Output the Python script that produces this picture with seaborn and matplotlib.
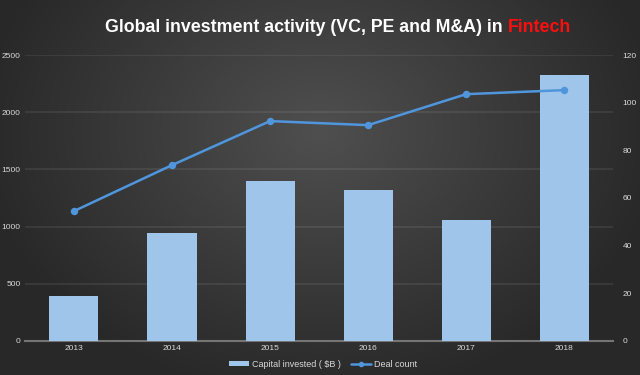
import matplotlib

matplotlib.use("Agg")
import matplotlib.pyplot as plt
import numpy as np
import pandas as pd
import seaborn as sns
from matplotlib.lines import Line2D
from matplotlib.patches import Patch

# Values
years = ["2013", "2014", "2015", "2016", "2017", "2018"]
capital_invested = [393, 944, 1398, 1320, 1058, 2325]
deal_count = [54.5, 73.8, 92.3, 90.6, 103.6, 105.3]

left_ticks = [0, 500, 1000, 1500, 2000, 2500]
right_ticks = [0, 20, 40, 60, 80, 100, 120]

BAR_COLOR = "#a0c5ea"
LINE_COLOR = "#5096dc"
TEXT_COLOR = "#d9d9d9"

df = pd.DataFrame(
    {"year": years, "capital": capital_invested, "deals": deal_count}
)

sns.set_theme(style="dark")
plt.rcParams["font.family"] = ["Liberation Sans", "DejaVu Sans"]

fig = plt.figure(figsize=(6.4, 3.75), dpi=100)

# Dark radial-ish gradient background
bg = fig.add_axes([0, 0, 1, 1], zorder=-10)
gx, gy = np.meshgrid(np.linspace(-1, 1, 320), np.linspace(-1, 1, 190))
dist = np.clip(np.sqrt(gx**2 * 0.9 + (gy + 0.3) ** 2 * 0.5), 0, 1)
shade = 0.31 - 0.15 * dist
bg.imshow(
    np.dstack([shade, shade, shade]),
    aspect="auto",
    extent=[0, 1, 0, 1],
    interpolation="bilinear",
)
bg.set_axis_off()

ax = fig.add_axes([0.039, 0.091, 0.919, 0.762])
ax.patch.set_alpha(0)

sns.barplot(data=df, x="year", y="capital", color=BAR_COLOR, width=0.5,
            saturation=1, linewidth=0, ax=ax, zorder=3)
ax.set_ylim(0, 2500)
ax.set_yticks(left_ticks)
ax.set_xlabel("")
ax.set_ylabel("")
ax.grid(axis="y", color="white", alpha=0.09, linewidth=1.2, zorder=0)
ax.grid(axis="x", visible=False)
for side in ["left", "right", "top"]:
    ax.spines[side].set_visible(False)
ax.spines["bottom"].set_color("#757575")
ax.spines["bottom"].set_linewidth(1.5)
ax.tick_params(axis="both", colors=TEXT_COLOR, labelsize=6, length=0, pad=3)

ax2 = ax.twinx()
sns.pointplot(data=df, x="year", y="deals", color=LINE_COLOR, ax=ax2,
              markers="o", markersize=4, linewidth=1.8)
ax2.set_ylim(0, 120)
ax2.set_yticks(right_ticks)
ax2.set_ylabel("")
for side in ["left", "right", "top", "bottom"]:
    ax2.spines[side].set_visible(False)
ax2.tick_params(axis="y", colors=TEXT_COLOR, labelsize=6, length=0, pad=7)
ax2.grid(False)

# Title with a red highlighted word
renderer = fig.canvas.get_renderer()
title_kw = dict(fontsize=12.8, fontweight="bold", va="center")
t1 = fig.text(0, 0.928, "Global investment activity (VC, PE and M&A) in ",
              color="white", **title_kw)
t2 = fig.text(0, 0.928, "Fintech", color="#ff0d0d", **title_kw)
w1 = t1.get_window_extent(renderer).width
w2 = t2.get_window_extent(renderer).width
x_start = (338 * 2 - (w1 + w2)) / 2 / 640
t1.set_x(x_start)
t2.set_x(x_start + w1 / 640)

handles = [
    Patch(facecolor=BAR_COLOR, edgecolor="none"),
    Line2D([0], [0], color=LINE_COLOR, linewidth=1.8, marker="o", markersize=3),
]
fig.legend(handles, ["Capital invested ( $B )", "Deal count"],
           loc="lower center", bbox_to_anchor=(0.505, -0.005), ncol=2,
           frameon=False, fontsize=6.5, labelcolor=TEXT_COLOR,
           handlelength=2.2, handleheight=0.6, columnspacing=1.2,
           handletextpad=0.3)

fig.savefig("out.png", dpi=100, facecolor="#333333")
